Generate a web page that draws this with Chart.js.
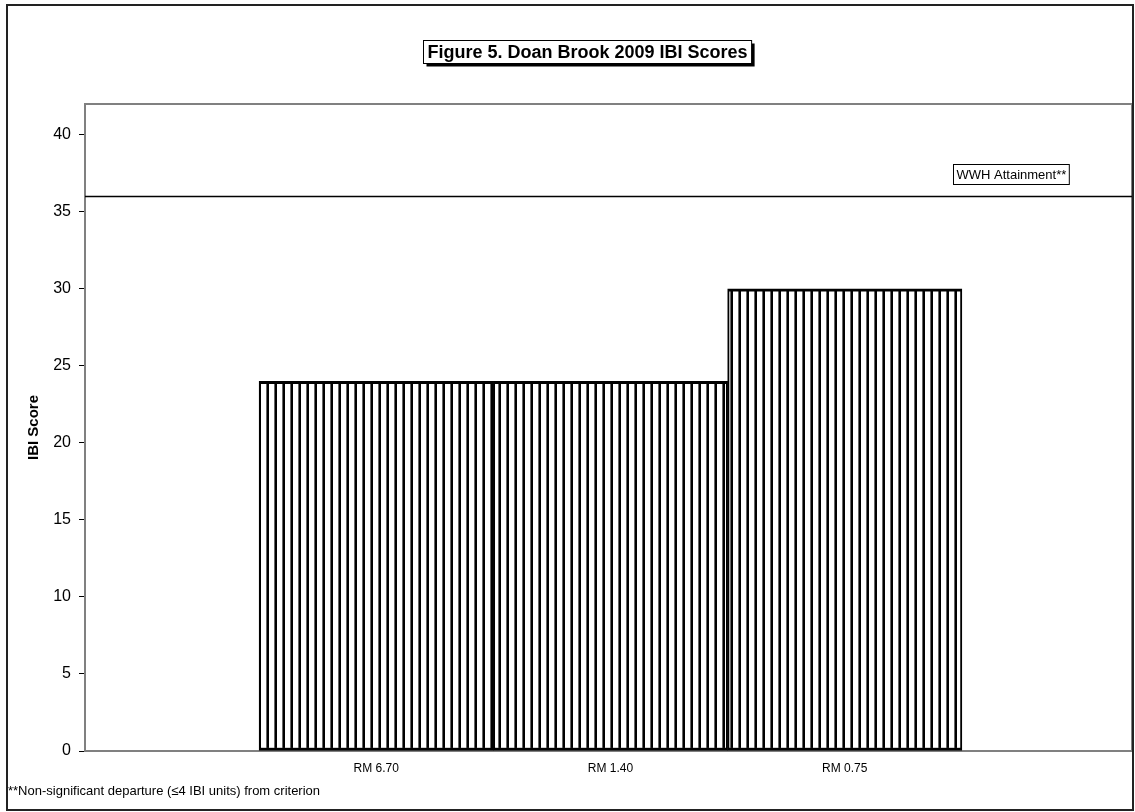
<!DOCTYPE html>
<html>
<head>
<meta charset="utf-8">
<title>Figure 5. Doan Brook 2009 IBI Scores</title>
<script src="https://cdn.jsdelivr.net/npm/chart.js@4"></script>
<style>
    html, body { margin: 0; padding: 0; background: #fff; }
    #wrap { width: 1135px; height: 812px; position: relative; }
</style>
</head>
<body>
<div id="wrap"><canvas id="ibi-chart"></canvas></div>
<script>
// chart data
const sites = ['RM 6.70', 'RM 1.40', 'RM 0.75'];
const ibiScores = [24, 24, 30];
const yTicks = [0, 5, 10, 15, 20, 25, 30, 35, 40];
const wwhCriterion = 36;

const chartTitle = 'Figure 5. Doan Brook 2009 IBI Scores';
const criterionLabel = 'WWH Attainment**';
const footnote = '**Non-significant departure (\u22644 IBI units) from criterion';

const FONT = '"Liberation Sans", Arial, sans-serif';

/**
 * Vertical stripe fill, like the old Excel pattern
 */
function makeStripes() {
    const c = document.createElement('canvas');
    c.width = 8;
    c.height = 4;
    const p = c.getContext('2d');
    p.fillStyle = '#fff';
    p.fillRect(0, 0, 8, 4);
    p.fillStyle = '#666';
    p.fillRect(2, 0, 1, 4);
    p.fillStyle = '#000';
    p.fillRect(3, 0, 2, 4);
    return p.createPattern(c, 'repeat');
}

const ctx = document.getElementById('ibi-chart').getContext('2d');

new Chart(ctx, {
    type: 'bar',
    data: {
        datasets: [{
            label: 'IBI Score',
            data: ibiScores.map((v, i) => ({ x: i + 1, y: v })),
            backgroundColor: makeStripes(),
            borderColor: '#000',
            borderWidth: { top: 3, bottom: 3, left: 2, right: 2 },
            borderSkipped: false,
            barPercentage: 1,
            categoryPercentage: 1
        }]
    },
    options: {
        responsive: true,
        maintainAspectRatio: false,
        animation: false,
        layout: {
            padding: { left: 0, top: 104, right: 3, bottom: 0 }
        },
        plugins: {
            legend: { display: false },
            tooltip: { enabled: false }
        },
        scales: {
            x: {
                type: 'linear',
                offset: false,
                min: -0.243,
                max: 4.226,
                grid: { display: false },
                border: { display: true, color: '#808080', width: 2 },
                afterBuildTicks: function(scale) {
                    scale.ticks = sites.map((s, i) => ({ value: i + 1 }));
                },
                afterFit: function(scale) {
                    scale.height = 61;
                },
                ticks: {
                    color: '#000',
                    padding: 2,
                    maxRotation: 0,
                    autoSkip: false,
                    font: { family: FONT, size: 12 },
                    callback: function(value) {
                        return sites[value - 1] || '';
                    }
                }
            },
            y: {
                min: 0,
                max: 42,
                grid: {
                    drawOnChartArea: false,
                    drawTicks: true,
                    tickLength: 6,
                    color: '#000',
                    lineWidth: 1
                },
                border: { display: true, color: '#808080', width: 2 },
                afterBuildTicks: function(scale) {
                    scale.ticks = yTicks.map(v => ({ value: v }));
                },
                afterFit: function(scale) {
                    scale.width = 85;
                },
                title: {
                    display: true,
                    text: 'IBI Score',
                    color: '#000',
                    padding: { top: 25, bottom: 0 },
                    font: { family: FONT, size: 15, weight: 'bold' }
                },
                ticks: {
                    color: '#000',
                    padding: 8,
                    font: { family: FONT, size: 16 }
                }
            }
        }
    },
    plugins: [{
        id: 'sheetDecor',
        beforeDraw: function(chart) {
            const c = chart.ctx;
            c.save();
            c.fillStyle = '#fff';
            c.fillRect(0, 0, chart.width, chart.height);
            c.restore();
        },
        afterDatasetsDraw: function(chart) {
            const c = chart.ctx;
            const a = chart.chartArea;
            const y = chart.scales.y;

            c.save();
            // plot area frame (top / right)
            c.strokeStyle = '#808080';
            c.lineWidth = 2;
            c.beginPath();
            c.moveTo(a.left, a.top);
            c.lineTo(a.right, a.top);
            c.lineTo(a.right, a.bottom);
            c.stroke();

            // criterion line
            const ly = Math.round(y.getPixelForValue(wwhCriterion)) + 0.5;
            c.strokeStyle = '#000';
            c.lineWidth = 1.5;
            c.beginPath();
            c.moveTo(a.left, ly);
            c.lineTo(a.right, ly);
            c.stroke();

            // criterion label box
            c.font = '13px ' + FONT;
            const lw = c.measureText(criterionLabel).width + 6;
            const bx = 953.5, bh = 20, by = ly - 12 - bh;
            c.fillStyle = '#fff';
            c.fillRect(bx, by, lw, bh);
            c.lineWidth = 1;
            c.strokeRect(bx, by, lw, bh);
            c.fillStyle = '#000';
            c.textBaseline = 'middle';
            c.fillText(criterionLabel, bx + 3, by + bh / 2 + 1);
            c.restore();
        },
        afterDraw: function(chart) {
            const c = chart.ctx;
            c.save();
            // outer border
            c.strokeStyle = '#222';
            c.lineWidth = 2;
            c.strokeRect(7, 5, 1126, 805);

            // title box with drop shadow
            c.font = 'bold 18px ' + FONT;
            const tw = c.measureText(chartTitle).width;
            const bw = tw + 8, bh = 23;
            const bx = Math.round(587 - bw / 2) + 0.5, by = 40.5;
            c.fillStyle = '#000';
            c.fillRect(bx + 3, by + 3, bw, bh);
            c.fillStyle = '#fff';
            c.fillRect(bx, by, bw, bh);
            c.strokeStyle = '#000';
            c.lineWidth = 1;
            c.strokeRect(bx, by, bw, bh);
            c.fillStyle = '#000';
            c.textBaseline = 'middle';
            c.fillText(chartTitle, bx + 4, by + bh / 2 + 1);

            // footnote
            c.font = '13px ' + FONT;
            c.textBaseline = 'alphabetic';
            c.fillText(footnote, 8, 795);
            c.restore();
        }
    }]
});
</script>
</body>
</html>
